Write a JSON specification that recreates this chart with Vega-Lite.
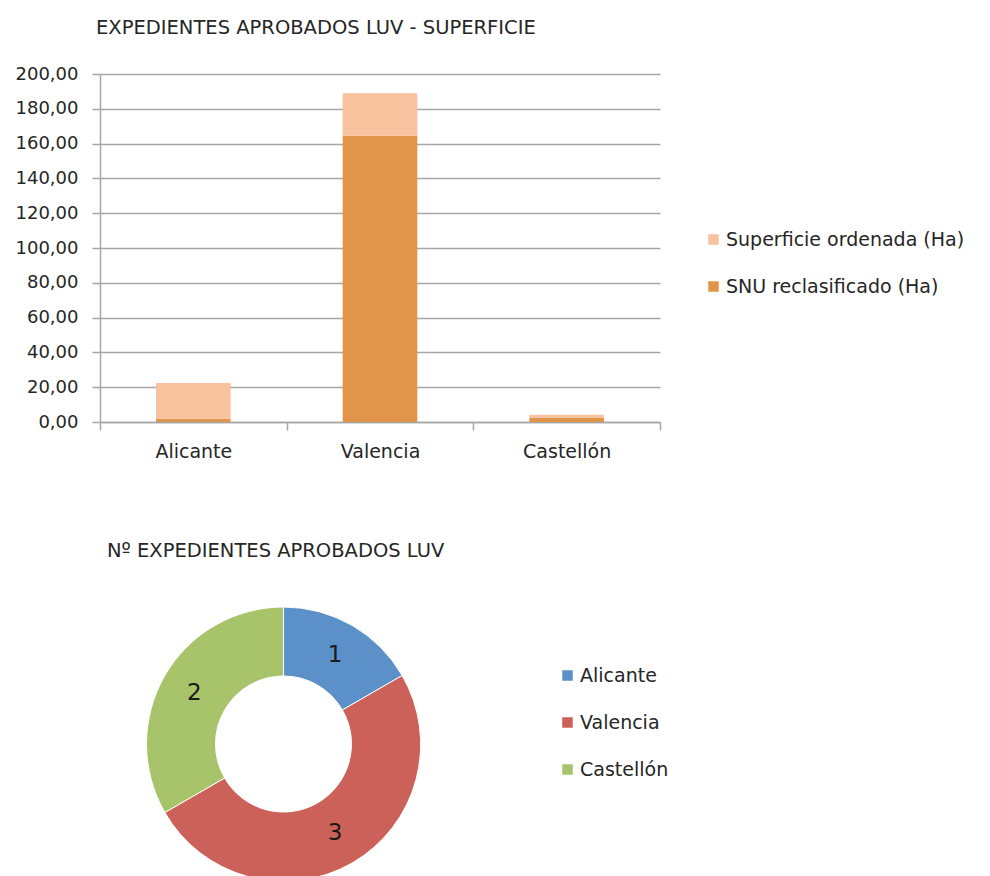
{
  "$schema": "https://vega.github.io/schema/vega-lite/v6.json",
  "padding": {"left": 15, "top": 17, "right": 5, "bottom": 0},
  "background": "white",
  "spacing": 79,
  "resolve": {"scale": {"color": "independent"}, "legend": {"color": "independent"}},
  "config": {
    "font": "DejaVu Sans",
    "view": {"stroke": null},
    "locale": {"number": {"decimal": ",", "thousands": ".", "grouping": [3], "currency": ["", " €"]}},
    "title": {"anchor": "start", "frame": "group", "fontSize": 19.5, "fontWeight": "normal", "color": "#262626", "baseline": "alphabetic", "font": "DejaVu Sans"},
    "axis": {"labelFont": "DejaVu Sans", "labelFontSize": 18, "labelColor": "#262626", "domainColor": "#A6A6A6", "tickColor": "#A6A6A6", "gridColor": "#A6A6A6", "domainWidth": 1.5, "tickWidth": 1.5, "gridWidth": 1.5},
    "legend": {"labelFont": "DejaVu Sans", "labelFontSize": 19, "labelColor": "#262626", "labelLimit": 0, "symbolType": "square", "symbolSize": 110, "symbolStrokeWidth": 0, "labelOffset": 3, "rowPadding": 27, "title": null}
  },
  "vconcat": [
    {
      "width": 560,
      "height": 348,
      "title": {"text": "EXPEDIENTES APROBADOS LUV - SUPERFICIE", "offset": 27, "dx": -4},
      "data": {"values": [
        {"provincia": "Alicante", "serie": "SNU reclasificado (Ha)", "valor": 1.9},
        {"provincia": "Alicante", "serie": "Superficie ordenada (Ha)", "valor": 20.5},
        {"provincia": "Valencia", "serie": "SNU reclasificado (Ha)", "valor": 164.5},
        {"provincia": "Valencia", "serie": "Superficie ordenada (Ha)", "valor": 24.4},
        {"provincia": "Castellón", "serie": "SNU reclasificado (Ha)", "valor": 2.6},
        {"provincia": "Castellón", "serie": "Superficie ordenada (Ha)", "valor": 1.6}
      ]},
      "mark": {"type": "bar", "width": {"band": 0.4}},
      "encoding": {
        "x": {"field": "provincia", "type": "nominal", "sort": ["Alicante", "Valencia", "Castellón"],
              "scale": {"paddingInner": 0, "paddingOuter": 0},
              "axis": {"title": null, "labelAngle": 0, "tickBand": "extent", "tickSize": 8, "labelPadding": 12, "labelFontSize": 19}},
        "y": {"field": "valor", "type": "quantitative", "stack": "zero",
              "scale": {"domain": [0, 200], "nice": false},
              "axis": {"title": null, "format": ".2f", "values": [0, 20, 40, 60, 80, 100, 120, 140, 160, 180, 200], "tickSize": 8, "labelPadding": 14, "grid": true}},
        "color": {"field": "serie", "type": "nominal",
                  "scale": {"domain": ["Superficie ordenada (Ha)", "SNU reclasificado (Ha)"], "range": ["#F8C29F", "#E0954B"]},
                  "legend": {"orient": "none", "legendX": 604, "legendY": 156}},
        "order": {"field": "serie", "sort": "ascending"}
      }
    },
    {
      "width": 367,
      "height": 274,
      "title": {"text": "Nº EXPEDIENTES APROBADOS LUV", "offset": 44, "dx": 7},
      "data": {"values": [
        {"provincia": "Alicante", "orden": 1, "expedientes": 1},
        {"provincia": "Valencia", "orden": 2, "expedientes": 3},
        {"provincia": "Castellón", "orden": 3, "expedientes": 2}
      ]},
      "encoding": {
        "theta": {"field": "expedientes", "type": "quantitative", "stack": true},
        "order": {"field": "orden", "type": "quantitative", "sort": "ascending"},
        "color": {"field": "provincia", "type": "nominal", "sort": ["Alicante", "Valencia", "Castellón"],
                  "scale": {"domain": ["Alicante", "Valencia", "Castellón"], "range": ["#5B90C8", "#CB6158", "#A8C46A"]},
                  "legend": {"orient": "none", "legendX": 458, "legendY": 59}}
      },
      "layer": [
        {"mark": {"type": "arc", "outerRadius": 137, "innerRadius": 68, "stroke": "white", "strokeWidth": 1}},
        {"mark": {"type": "text", "radius": 103, "fontSize": 23},
         "encoding": {"text": {"field": "expedientes", "type": "quantitative"}, "color": {"value": "#1a1a1a"}}}
      ]
    }
  ]
}
